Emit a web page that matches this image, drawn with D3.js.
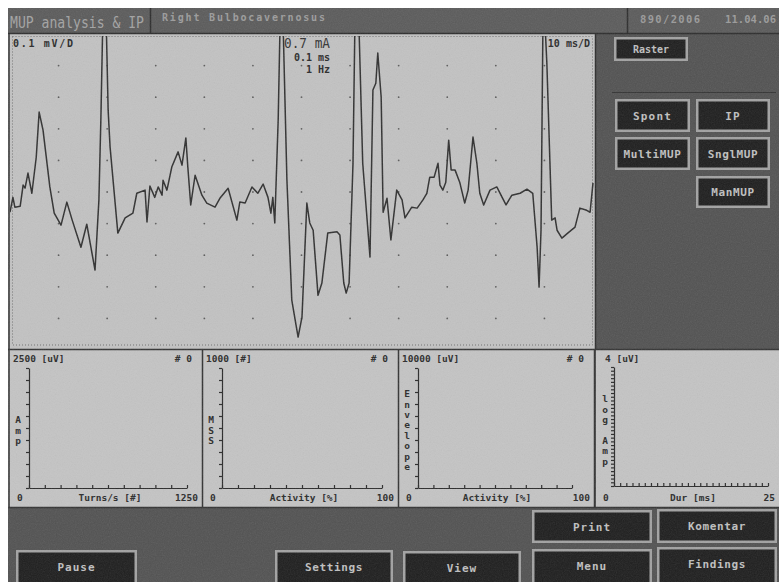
<!DOCTYPE html>
<html>
<head>
<meta charset="utf-8">
<script src="https://cdn.jsdelivr.net/npm/d3@7"></script>
<style>
  body { margin: 0; background: #fff; }
  svg { display: block; }
</style>
</head>
<body>
<div id="screen"></div>
<script>
// ---- data ----
// raw EMG sweep: time (ms) and amplitude (uV), 10 ms/D, 0.1 mV/D
const traceTime = [0, 0.6, 1.0, 2.1, 2.7, 3.1, 3.7, 4.5, 5.4, 6.0, 6.8, 8.2, 9.1, 10.5, 11.7, 12.8, 14.6, 15.8, 17.5, 18.3,
  18.7, 19.1, 19.8, 20.2, 20.6, 22.2, 23.7, 25.3, 26.1, 27.8, 28.2, 28.8, 29.8, 30.5, 31.3, 31.5, 32.3, 33.3, 34.6, 35.4,
  36.2, 36.6, 37.2, 38.1, 39.5, 40.5, 42.2, 43.2, 44.9, 46.7, 47.3, 48.4, 49.8, 51.0, 52.1, 53.1, 53.7, 54.1, 54.5, 55.2,
  55.6, 56.2, 57.0, 58.0, 59.3, 60.1, 61.1, 61.7, 62.4, 63.4, 64.2, 65.4, 67.3, 67.9, 68.7, 69.2, 69.8, 70.6, 71.0, 71.8,
  72.6, 74.1, 74.7, 75.3, 75.7, 76.4, 76.8, 77.6, 78.4, 79.6, 80.7, 81.3, 82.7, 83.8, 85.0, 85.8, 86.4, 87.3, 88.1, 88.5,
  89.1, 89.7, 90.3, 90.8, 91.6, 92.6, 93.6, 94.3, 95.3, 96.1, 96.7, 97.5, 98.8, 100.2, 101.3, 102.1, 103.3, 105.0, 106.4, 107.6,
  108.5, 108.9, 109.3, 109.7, 110.1, 110.5, 111.5, 112.2, 112.6, 113.6, 114.8, 116.3, 117.3, 118.7, 119.4, 120];
const traceAmp = [-64, -17, -48, -45, 22, 12, 60, -4, 110, 253, 196, 16, -67, -105, -32, -89, -175, -102, -247, -25,
  228, 540, 540, 259, 142, -130, -82, -67, -4, 6, -95, 19, -17, 16, -10, 37, 6, 79, 127, 85,
  171, 79, -41, 53, -10, -35, -48, -20, 12, -89, -32, -35, 16, -4, 25, -17, -67, -17, -98, 228,
  540, 540, 37, -342, -459, -396, -35, -98, -121, -327, -288, -130, -126, -136, -288, -320, -288, 91, 540, 540,
  91, -206, 323, 344, 440, 300, -64, -20, -152, 6, -25, -82, -48, -51, -25, -4, 47, 47, 91, 22,
  6, 31, 164, 70, 70, 29, -35, 6, 174, 91, -4, -41, 6, 16, -17, -41, -10, -4, 9, -4,
  -175, -301, -121, 540, 540, 408, -89, -82, -121, -146, -130, -111, -51, -58, -64, 29];

// the four (empty) analysis plots underneath
const plotYMax   = [2500, 1000, 10000, 4];
const plotYUnit  = ["uV", "#", "uV", "uV"];
const plotYName  = ["Amp", "MSS", "Envelope", "log Amp"];
const plotXMax   = [1250, 100, 100, 25];
const plotXName  = ["Turns/s [#]", "Activity [%]", "Activity [%]", "Dur [ms]"];
const plotXStep  = [125, 10, 10, 1];
const plotYStep  = [250, 100, 1000, 0.125];
const plotCount  = ["# 0", "# 0", "# 0", ""];

// header texts
const headerTexts = ["MUP analysis & IP", "Right Bulbocavernosus", "890/2006", "11.04.06"];
const stimTexts = ["0.7 mA", "0.1 ms", "1 Hz"];

// ---- drawing ----
const W = 779, H = 582;
const mono = "'DejaVu Sans Mono', monospace";
const dark = "#525252", panelFill = "#c2c2c2", ink = "#2a2a2a";

const svg = d3.select("#screen").append("svg")
  .attr("width", W)
  .attr("height", H);

const defs = svg.append("defs");
defs.append("clipPath").attr("id", "traceClip")
  .append("rect").attr("x", 10).attr("y", 36).attr("width", 584).attr("height", 311);
const grain = defs.append("filter").attr("id", "grain")
  .attr("x", 0).attr("y", 0).attr("width", "100%").attr("height", "100%");
grain.append("feTurbulence").attr("type", "fractalNoise")
  .attr("baseFrequency", 0.85).attr("numOctaves", 2).attr("seed", 4);
grain.append("feColorMatrix").attr("type", "saturate").attr("values", 0);

// monitor body
svg.append("rect").attr("x", 8).attr("y", 8).attr("width", W - 8).attr("height", H - 8).attr("fill", dark);
svg.append("rect").attr("x", 8).attr("y", 8).attr("width", W - 8).attr("height", 25).attr("fill", "#5b5b5b");

// header
svg.append("text").attr("x", 10).attr("y", 28)
  .attr("font-family", mono).attr("font-size", 15).attr("fill", "#a3a3a3")
  .attr("textLength", 134).attr("lengthAdjust", "spacingAndGlyphs")
  .text(headerTexts[0]);
svg.append("text").attr("x", 162).attr("y", 21)
  .attr("font-family", mono).attr("font-size", 10).attr("font-weight", "bold").attr("fill", "#9c9c9c")
  .attr("textLength", 163).attr("lengthAdjust", "spacing")
  .text(headerTexts[1]);
svg.append("text").attr("x", 640).attr("y", 23)
  .attr("font-family", mono).attr("font-size", 10.5).attr("font-weight", "bold").attr("fill", "#9a9a9a")
  .attr("textLength", 60).attr("lengthAdjust", "spacing")
  .text(headerTexts[2]);
svg.append("text").attr("x", 725).attr("y", 23)
  .attr("font-family", mono).attr("font-size", 10.5).attr("font-weight", "bold").attr("fill", "#9a9a9a")
  .attr("textLength", 51).attr("lengthAdjust", "spacing")
  .text(headerTexts[3]);
[150.5, 627.5].forEach(x => svg.append("line")
  .attr("x1", x).attr("x2", x).attr("y1", 8).attr("y2", 33)
  .attr("stroke", "#2c2c2c").attr("stroke-width", 1.5));

// raw trace panel
svg.append("rect").attr("x", 10).attr("y", 34).attr("width", 585).attr("height", 315).attr("fill", panelFill);
svg.append("rect").attr("x", 12.5).attr("y", 36.5).attr("width", 580).attr("height", 308.5)
  .attr("fill", "none").attr("stroke", "#707070").attr("stroke-dasharray", "1,2");
svg.append("line").attr("x1", 8).attr("x2", W).attr("y1", 33.5).attr("y2", 33.5)
  .attr("stroke", "#2c2c2c").attr("stroke-width", 1.5);
svg.append("line").attr("x1", 595.5).attr("x2", 595.5).attr("y1", 33).attr("y2", 350)
  .attr("stroke", "#2c2c2c").attr("stroke-width", 1.5);

const x = d3.scaleLinear([0, 120], [10, 593]);
const y = d3.scaleLinear([-500, 500], [350, 34]);

// division dots
const gridX = d3.range(10, 120, 10);
const gridY = d3.range(-400, 500, 100);
svg.append("g").selectAll("circle")
  .data(d3.cross(gridX, gridY))
  .join("circle")
  .attr("cx", d => x(d[0]))
  .attr("cy", d => y(d[1]))
  .attr("r", 0.9)
  .attr("fill", "#5c5c5c");

// labels inside the trace window
svg.append("text").attr("x", 13).attr("y", 47)
  .attr("font-family", mono).attr("font-size", 10).attr("font-weight", "bold").attr("fill", ink)
  .attr("textLength", 60).attr("lengthAdjust", "spacing")
  .text(`${y.domain()[1] / 5000} mV/D`);
svg.append("text").attr("x", 590).attr("y", 47).attr("text-anchor", "end")
  .attr("font-family", mono).attr("font-size", 10).attr("font-weight", "bold").attr("fill", ink)
  .text(`${x.domain()[1] / 12} ms/D`);
svg.append("text").attr("x", 284).attr("y", 48)
  .attr("font-family", mono).attr("font-size", 14).attr("fill", "#333")
  .attr("textLength", 46).attr("lengthAdjust", "spacingAndGlyphs")
  .text(stimTexts[0]);
svg.append("text").attr("x", 330).attr("y", 61).attr("text-anchor", "end")
  .attr("font-family", mono).attr("font-size", 10).attr("font-weight", "bold").attr("fill", ink)
  .text(stimTexts[1]);
svg.append("text").attr("x", 330).attr("y", 73).attr("text-anchor", "end")
  .attr("font-family", mono).attr("font-size", 10).attr("font-weight", "bold").attr("fill", ink)
  .text(stimTexts[2]);

// the sweep itself
const line = d3.line()
  .x(d => x(d[0]))
  .y(d => y(d[1]));
svg.append("path")
  .datum(d3.zip(traceTime, traceAmp))
  .attr("clip-path", "url(#traceClip)")
  .attr("d", line)
  .attr("fill", "none")
  .attr("stroke", "#303030")
  .attr("stroke-width", 1.5)
  .attr("stroke-linejoin", "round");

// analysis plots
const boxX = [10, 203, 399, 596];
const boxW = [192, 195, 195, 183];
const axisLeftX = [29, 222, 418, 614];
const axisRightX = [187, 382, 572, 768];

boxX.forEach((bx, i) => {
  const g = svg.append("g");
  g.append("rect").attr("x", bx).attr("y", 350).attr("width", boxW[i]).attr("height", 157)
    .attr("fill", "#c4c4c4");

  const top = i === 3 ? 367 : 368, bottom = i === 3 ? 486 : 488;
  const px = d3.scaleLinear([0, plotXMax[i]], [axisLeftX[i], axisRightX[i]]);
  const py = d3.scaleLinear([0, plotYMax[i]], [bottom, top]);

  const xa = d3.axisBottom(px)
    .tickValues(d3.range(0, plotXMax[i] + 1e-6, plotXStep[i]))
    .tickFormat("").tickSizeInner(-3).tickSizeOuter(0);
  const ya = d3.axisLeft(py)
    .tickValues(d3.range(0, plotYMax[i] + 1e-6, plotYStep[i]))
    .tickFormat("").tickSizeInner(3).tickSizeOuter(0);

  g.append("g").attr("transform", `translate(0,${bottom})`).call(xa)
    .call(a => a.selectAll("path,line").attr("stroke", ink).attr("stroke-width", 1.2));
  g.append("g").attr("transform", `translate(${axisLeftX[i]},0)`).call(ya)
    .call(a => a.selectAll("path,line").attr("stroke", ink).attr("stroke-width", 1.2));

  const txt = (tx, ty, s, anchor) => g.append("text")
    .attr("x", tx).attr("y", ty).attr("text-anchor", anchor || "start")
    .attr("font-family", mono).attr("font-size", 9.5).attr("font-weight", "bold").attr("fill", ink)
    .text(s);

  txt(bx + (i === 3 ? 9 : 3), 362, `${plotYMax[i]} [${plotYUnit[i]}]`);
  txt(bx + boxW[i] - 10, 362, plotCount[i], "end");
  txt(bx + 7, 501, "0");
  txt((axisLeftX[i] + axisRightX[i]) / 2 + 2, 501, plotXName[i], "middle");
  txt(bx + boxW[i] - 4, 501, String(plotXMax[i]), "end");

  // vertical axis name, one letter per line
  const letters = plotYName[i].split("");
  const step = 10.4;
  const y0 = 431 - (letters.length - 1) * step / 2;
  letters.forEach((c, k) => {
    g.append("text")
      .attr("x", bx + (i === 3 ? 9 : 8)).attr("y", y0 + k * step)
      .attr("dominant-baseline", "middle").attr("text-anchor", "middle")
      .attr("font-family", mono).attr("font-size", 9.5).attr("font-weight", "bold").attr("fill", ink)
      .text(c);
  });
});

// panel frames
[202.5, 398.5, 594.5].forEach(lx => svg.append("line")
  .attr("x1", lx).attr("x2", lx).attr("y1", 349).attr("y2", 508)
  .attr("stroke", "#333").attr("stroke-width", 1.5));
[349.5, 507.5].forEach(ly => svg.append("line")
  .attr("x1", 8).attr("x2", W).attr("y1", ly).attr("y2", ly)
  .attr("stroke", "#333").attr("stroke-width", 1.5));

// screen buttons
const buttons = [
  { t: "Raster",   x: 614, y: 37,  w: 74,  h: 24, fs: 10,  ls: 0 },
  { t: "Spont",    x: 615, y: 99,  w: 75,  h: 33, fs: 11,  ls: 1.2 },
  { t: "IP",       x: 696, y: 99,  w: 74,  h: 33, fs: 11,  ls: 1.2 },
  { t: "MultiMUP", x: 615, y: 137, w: 75,  h: 33, fs: 11,  ls: 0.6 },
  { t: "SnglMUP",  x: 696, y: 137, w: 74,  h: 33, fs: 11,  ls: 0.6 },
  { t: "ManMUP",   x: 696, y: 176, w: 74,  h: 32, fs: 11,  ls: 0.6 },
  { t: "Print",    x: 532, y: 510, w: 120, h: 33, fs: 11,  ls: 1 },
  { t: "Komentar", x: 657, y: 509, w: 120, h: 34, fs: 11,  ls: 0.6 },
  { t: "Pause",    x: 16,  y: 550, w: 121, h: 40, fs: 11,  ls: 1 },
  { t: "Settings", x: 275, y: 550, w: 118, h: 40, fs: 11,  ls: 0.6 },
  { t: "View",     x: 403, y: 551, w: 118, h: 40, fs: 11,  ls: 1 },
  { t: "Menu",     x: 532, y: 549, w: 120, h: 40, fs: 11,  ls: 1 },
  { t: "Findings", x: 657, y: 547, w: 120, h: 40, fs: 11,  ls: 0.6 }
];
svg.append("line").attr("x1", 612).attr("x2", 776).attr("y1", 92.5).attr("y2", 92.5)
  .attr("stroke", "#333").attr("stroke-width", 1.2);

const btn = svg.append("g").selectAll("g").data(buttons).join("g");
btn.append("rect")
  .attr("x", d => d.x + 1.25).attr("y", d => d.y + 1.25)
  .attr("width", d => d.w - 2.5).attr("height", d => d.h - 2.5)
  .attr("fill", "#1e1e1e").attr("stroke", "#a2a2a2").attr("stroke-width", 2.5);
btn.append("text")
  .attr("x", d => d.x + d.w / 2)
  .attr("y", d => d.y + Math.min(d.h, 33) / 2 + 1)
  .attr("dominant-baseline", "middle").attr("text-anchor", "middle")
  .attr("font-family", mono).attr("font-weight", "bold")
  .attr("font-size", d => d.fs).attr("letter-spacing", d => d.ls)
  .attr("fill", "#c0c0c0")
  .text(d => d.t);

// photographic grain
svg.append("rect").attr("x", 8).attr("y", 8).attr("width", W - 8).attr("height", H - 8)
  .attr("filter", "url(#grain)").attr("opacity", 0.13);
</script>
</body>
</html>
